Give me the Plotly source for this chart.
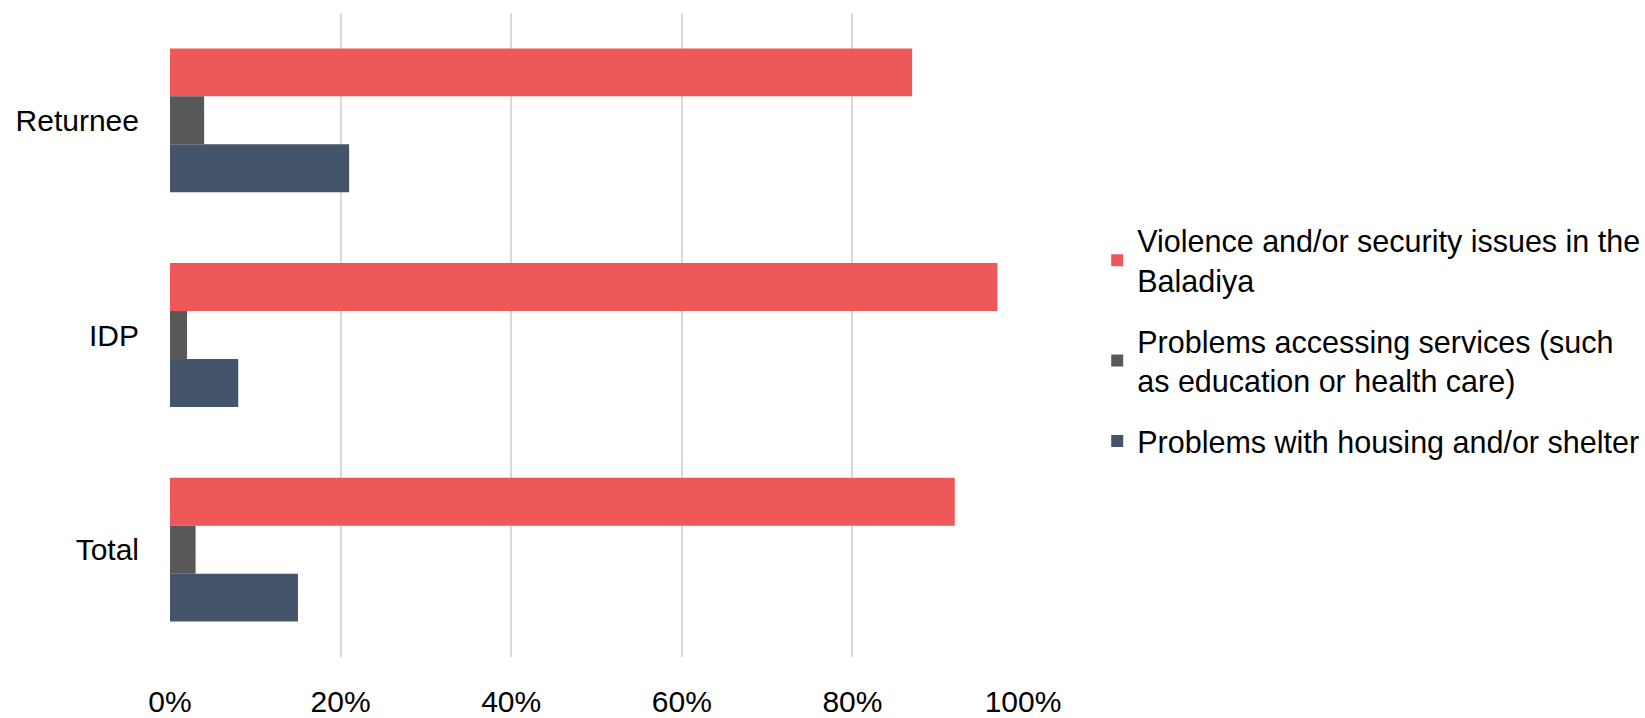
import plotly.graph_objects as go

categories = ["Returnee", "IDP", "Total"]
series_names = [
    "Violence and/or security issues in the<br>Baladiya",
    "Problems accessing services (such<br>as education or health care)",
    "Problems with housing and/or shelter",
]
violence = [87, 97, 92]
services = [4, 2, 3]
housing = [21, 8, 15]
colors = ["#EE5859", "#58585A", "#44546A"]
tick_vals = [0, 20, 40, 60, 80, 100]
tick_text = ["0%", "20%", "40%", "60%", "80%", "100%"]

fig = go.Figure()
for i, (name, vals, col) in enumerate(zip(series_names, [violence, services, housing], colors)):
    fig.add_trace(go.Bar(y=categories, x=vals, name=name, orientation="h",
                         legendgroup=f"g{i}",
                         marker=dict(color=col, line=dict(width=0))))

fig.update_layout(
    width=1645, height=718,
    margin=dict(l=170, r=622, t=13, b=61, autoexpand=False),
    paper_bgcolor="white", plot_bgcolor="white",
    barmode="group", bargap=0.33, bargroupgap=0,
    font=dict(family="Liberation Sans, Arial", size=30, color="black"),
    xaxis=dict(range=[0, 100], tickvals=tick_vals, ticktext=tick_text,
               showgrid=True, gridcolor="#D9D9D9", gridwidth=2,
               zeroline=False, showline=False, ticks="",
               ticklabelstandoff=24, automargin=False, fixedrange=True),
    yaxis=dict(autorange="reversed", showgrid=False, zeroline=False,
               showline=False, ticks="", ticklabelstandoff=30,
               automargin=False),
    legend=dict(xref="container", yref="container",
                x=0.667, xanchor="left", y=0.525, yanchor="middle",
                font=dict(family="Liberation Sans, Arial", size=30.5),
                tracegroupgap=18, itemwidth=30, traceorder="grouped",
                bgcolor="rgba(0,0,0,0)"),
    showlegend=True,
)
fig.write_html("out.html")
